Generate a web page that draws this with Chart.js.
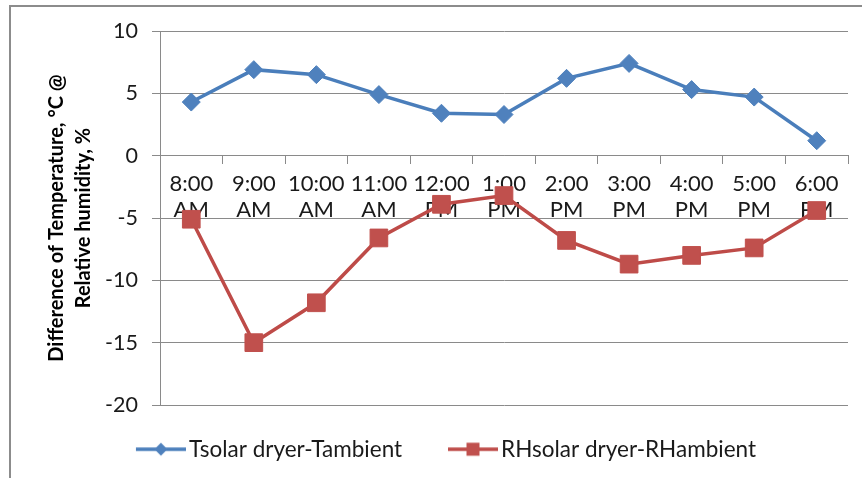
<!DOCTYPE html>
<html>
<head>
<meta charset="utf-8">
<script src="https://cdn.jsdelivr.net/npm/chart.js@4/dist/chart.umd.min.js"></script>
<style>
  html, body { margin: 0; padding: 0; background: #ffffff; }
  #wrap { position: relative; width: 862px; height: 478px; }
  canvas { display: block; }
</style>
</head>
<body>
<div id="wrap"><canvas id="chart" width="862" height="478"></canvas></div>
<script>
// Hour of measurement, split in two lines under the zero line
const hours = ["8:00", "9:00", "10:00", "11:00", "12:00", "1:00", "2:00", "3:00", "4:00", "5:00", "6:00"];
const meridiem = ["AM", "AM", "AM", "AM", "PM", "PM", "PM", "PM", "PM", "PM", "PM"];

// Dryer minus ambient: temperature (°C) and relative humidity (%)
const tempDiff = [4.3, 6.9, 6.5, 4.9, 3.4, 3.3, 6.2, 7.4, 5.3, 4.7, 1.2];
const rhDiff = [-5.1, -15.0, -11.8, -6.6, -3.9, -3.2, -6.8, -8.7, -8.0, -7.4, -4.4];

const seriesNames = ["Tsolar dryer-Tambient", "RHsolar dryer-RHambient"];
const yTicks = [-20, -15, -10, -5, 0, 5, 10];

const labels = hours.map((h, i) => [h, meridiem[i]]);

const FONT = "Lato, 'Open Sans', 'DejaVu Sans', sans-serif";
const GRID = "#8a8a8a";
const BLUE_LINE = "#4A7EBB", BLUE_MARK = "#4F81BD";
const RED_LINE = "#BE4B48", RED_MARK = "#C0504D";

// Legend layout numbers
const LEGEND_FS = 22.5;
const LEGEND_PAD = 33;
const BOX_W = 54.75;

// Legend swatch: a short line with the series marker in its middle,
// right-aligned so the line ends just before the label text
function swatch(lineColor, markColor, shape) {
  const w = Math.round(BOX_W + LEGEND_FS - 6), h = 20;
  const c = document.createElement("canvas");
  c.width = w; c.height = h;
  const g = c.getContext("2d");
  const x0 = w - 50, x1 = w, cy = h / 2, cx = (x0 + x1) / 2;
  g.strokeStyle = lineColor;
  g.lineWidth = 3.5;
  g.beginPath(); g.moveTo(x0, cy); g.lineTo(x1, cy); g.stroke();
  g.fillStyle = markColor;
  g.beginPath();
  if (shape === "diamond") {
    const r = 6.5;
    g.moveTo(cx, cy - r); g.lineTo(cx + r, cy); g.lineTo(cx, cy + r); g.lineTo(cx - r, cy);
    g.closePath();
  } else {
    const s = 6.5;
    g.rect(cx - s, cy - s, 2 * s, 2 * s);
  }
  g.fill();
  return c;
}
const swatches = [swatch(BLUE_LINE, BLUE_MARK, "diamond"), swatch(RED_LINE, RED_MARK, "square")];

// Outer chart border (left and top edges are visible)
const frame = {
  id: "frame",
  beforeDraw(chart) {
    const ctx = chart.ctx;
    ctx.save();
    ctx.strokeStyle = "#8c8c8c";
    ctx.lineWidth = 2;
    ctx.beginPath();
    ctx.moveTo(10, 478);
    ctx.lineTo(10, 6);
    ctx.lineTo(862, 6);
    ctx.stroke();
    ctx.restore();
  }
};

new Chart(document.getElementById("chart"), {
  type: "line",
  data: {
    labels: labels,
    datasets: [
      {
        label: seriesNames[0],
        data: tempDiff,
        borderColor: BLUE_LINE,
        backgroundColor: BLUE_MARK,
        borderWidth: 3.5,
        pointStyle: "rectRot",
        pointRadius: 9,
        pointBorderWidth: 1,
        pointBorderColor: BLUE_MARK,
        pointBackgroundColor: BLUE_MARK,
        tension: 0
      },
      {
        label: seriesNames[1],
        data: rhDiff,
        borderColor: RED_LINE,
        backgroundColor: RED_MARK,
        borderWidth: 3.5,
        pointStyle: "rect",
        pointRadius: 12.5,
        pointBorderWidth: 1,
        pointBorderColor: RED_MARK,
        pointBackgroundColor: RED_MARK,
        tension: 0
      }
    ]
  },
  options: {
    responsive: false,
    animation: false,
    devicePixelRatio: 1,
    layout: { padding: { left: 31, right: 14, top: 31, bottom: 7.5 } },
    plugins: {
      tooltip: { enabled: false },
      title: { display: false },
      legend: {
        display: true,
        position: "bottom",
        align: "center",
        labels: {
          usePointStyle: true,
          pointStyleWidth: BOX_W,
          padding: LEGEND_PAD,
          color: "#1a1a1a",
          font: { family: FONT, size: LEGEND_FS },
          generateLabels(chart) {
            return chart.data.datasets.map((ds, i) => ({
              text: ds.label,
              pointStyle: swatches[i],
              fillStyle: "transparent",
              strokeStyle: "transparent",
              lineWidth: 0,
              hidden: false,
              datasetIndex: i,
              fontColor: "#1a1a1a"
            }));
          }
        }
      }
    },
    scales: {
      x: {
        type: "category",
        position: { y: 0 },
        offset: true,
        grid: {
          display: true,
          drawOnChartArea: false,
          drawTicks: true,
          tickLength: 8,
          offset: true,
          color: GRID,
          lineWidth: 1
        },
        border: { display: true, color: GRID, width: 1 },
        ticks: {
          autoSkip: false,
          maxRotation: 0,
          minRotation: 0,
          padding: 7,
          color: "#1a1a1a",
          font: { family: FONT, size: 22, lineHeight: 1.2 }
        }
      },
      y: {
        type: "linear",
        position: "left",
        min: -20,
        max: 10,
        afterBuildTicks(scale) {
          scale.ticks = yTicks.map(v => ({ value: v }));
        },
        afterFit(scale) { scale.width = 129; },
        grid: {
          display: true,
          drawOnChartArea: true,
          drawTicks: true,
          tickLength: 8,
          color: GRID,
          lineWidth: 1
        },
        border: { display: true, color: GRID, width: 1 },
        ticks: {
          padding: 14,
          color: "#1a1a1a",
          font: { family: FONT, size: 21.5 }
        },
        title: {
          display: true,
          text: ["Difference of Temperature, °C @", "Relative humidity, %"],
          color: "#000000",
          font: { family: FONT, size: 20, weight: "bold", lineHeight: 1.35 },
          padding: { top: 12.5, bottom: 0 }
        }
      }
    }
  },
  plugins: [frame]
});
</script>
</body>
</html>
